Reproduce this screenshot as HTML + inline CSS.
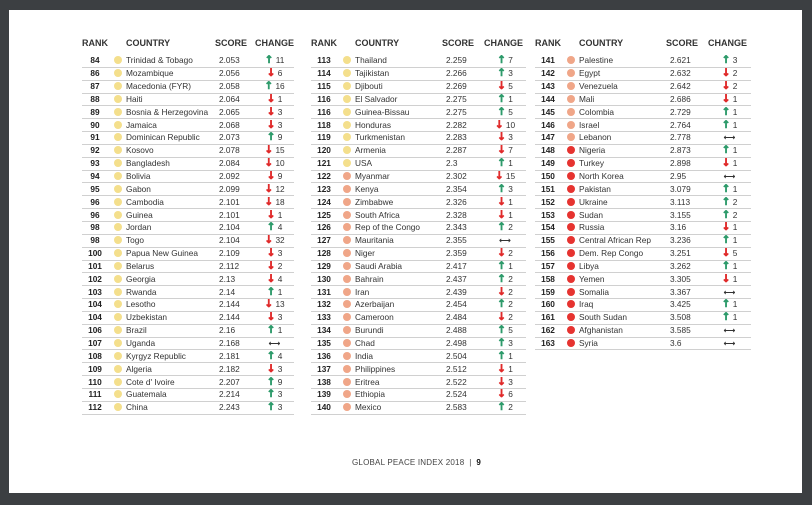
<!DOCTYPE html>
<html><head><meta charset="utf-8"><style>
html,body{margin:0;padding:0;width:812px;height:505px;overflow:hidden;background:#3c3f42;font-family:"Liberation Sans",sans-serif;}
.page{position:absolute;left:9px;top:10px;width:793px;height:483px;background:#fff;}
.col{position:absolute;top:26px;}
table{border-collapse:collapse;table-layout:fixed;}
th{font-size:9px;font-weight:bold;color:#333;text-align:left;height:14px;padding:0;padding-bottom:5px;white-space:nowrap;}
td{font-size:8.3px;color:#333;height:11.85px;padding:0;border-bottom:1px solid #d0d0d0;white-space:nowrap;line-height:11px;}
td.r{font-weight:bold;text-align:center;color:#222;}
td.s{padding-left:4px;}
td.c{text-align:center;}
i{display:inline-block;width:8px;height:8px;border-radius:50%;vertical-align:-1px;margin-left:6px;}
.y i{background:#f4df8c}.o i{background:#f0a688}.d i{background:#e63330}
b.u,b.w{font-size:10.5px;font-family:"DejaVu Sans",sans-serif;font-weight:bold;-webkit-text-stroke:0.6px currentColor;line-height:10px}
.u{color:#2e9b6b}.w{color:#e02a2a}.e{font-weight:bold;font-family:"DejaVu Sans",sans-serif;}
.ft{position:absolute;left:343px;top:448px;font-size:8px;color:#444;letter-spacing:.2px}
</style></head><body><div class="page">
<div class="col" style="left:73px">
<table><colgroup><col style="width:24px"><col style="width:18px"><col style="width:89px"><col style="width:40px"><col style="width:37px"></colgroup>
<tr><th>RANK</th><th></th><th>COUNTRY</th><th>SCORE</th><th>CHANGE</th></tr>
<tr class="y"><td class="r">84</td><td><i></i></td><td>Trinidad &amp; Tobago</td><td class="s">2.053</td><td class="c"><b class="u">↑</b> 11</td></tr>
<tr class="y"><td class="r">86</td><td><i></i></td><td>Mozambique</td><td class="s">2.056</td><td class="c"><b class="w">↓</b> 6</td></tr>
<tr class="y"><td class="r">87</td><td><i></i></td><td>Macedonia (FYR)</td><td class="s">2.058</td><td class="c"><b class="u">↑</b> 16</td></tr>
<tr class="y"><td class="r">88</td><td><i></i></td><td>Haiti</td><td class="s">2.064</td><td class="c"><b class="w">↓</b> 1</td></tr>
<tr class="y"><td class="r">89</td><td><i></i></td><td>Bosnia &amp; Herzegovina</td><td class="s">2.065</td><td class="c"><b class="w">↓</b> 3</td></tr>
<tr class="y"><td class="r">90</td><td><i></i></td><td>Jamaica</td><td class="s">2.068</td><td class="c"><b class="w">↓</b> 3</td></tr>
<tr class="y"><td class="r">91</td><td><i></i></td><td>Dominican Republic</td><td class="s">2.073</td><td class="c"><b class="u">↑</b> 9</td></tr>
<tr class="y"><td class="r">92</td><td><i></i></td><td>Kosovo</td><td class="s">2.078</td><td class="c"><b class="w">↓</b> 15</td></tr>
<tr class="y"><td class="r">93</td><td><i></i></td><td>Bangladesh</td><td class="s">2.084</td><td class="c"><b class="w">↓</b> 10</td></tr>
<tr class="y"><td class="r">94</td><td><i></i></td><td>Bolivia</td><td class="s">2.092</td><td class="c"><b class="w">↓</b> 9</td></tr>
<tr class="y"><td class="r">95</td><td><i></i></td><td>Gabon</td><td class="s">2.099</td><td class="c"><b class="w">↓</b> 12</td></tr>
<tr class="y"><td class="r">96</td><td><i></i></td><td>Cambodia</td><td class="s">2.101</td><td class="c"><b class="w">↓</b> 18</td></tr>
<tr class="y"><td class="r">96</td><td><i></i></td><td>Guinea</td><td class="s">2.101</td><td class="c"><b class="w">↓</b> 1</td></tr>
<tr class="y"><td class="r">98</td><td><i></i></td><td>Jordan</td><td class="s">2.104</td><td class="c"><b class="u">↑</b> 4</td></tr>
<tr class="y"><td class="r">98</td><td><i></i></td><td>Togo</td><td class="s">2.104</td><td class="c"><b class="w">↓</b> 32</td></tr>
<tr class="y"><td class="r">100</td><td><i></i></td><td>Papua New Guinea</td><td class="s">2.109</td><td class="c"><b class="w">↓</b> 3</td></tr>
<tr class="y"><td class="r">101</td><td><i></i></td><td>Belarus</td><td class="s">2.112</td><td class="c"><b class="w">↓</b> 2</td></tr>
<tr class="y"><td class="r">102</td><td><i></i></td><td>Georgia</td><td class="s">2.13</td><td class="c"><b class="w">↓</b> 4</td></tr>
<tr class="y"><td class="r">103</td><td><i></i></td><td>Rwanda</td><td class="s">2.14</td><td class="c"><b class="u">↑</b> 1</td></tr>
<tr class="y"><td class="r">104</td><td><i></i></td><td>Lesotho</td><td class="s">2.144</td><td class="c"><b class="w">↓</b> 13</td></tr>
<tr class="y"><td class="r">104</td><td><i></i></td><td>Uzbekistan</td><td class="s">2.144</td><td class="c"><b class="w">↓</b> 3</td></tr>
<tr class="y"><td class="r">106</td><td><i></i></td><td>Brazil</td><td class="s">2.16</td><td class="c"><b class="u">↑</b> 1</td></tr>
<tr class="y"><td class="r">107</td><td><i></i></td><td>Uganda</td><td class="s">2.168</td><td class="c"><b class="e">⟷</b></td></tr>
<tr class="y"><td class="r">108</td><td><i></i></td><td>Kyrgyz Republic</td><td class="s">2.181</td><td class="c"><b class="u">↑</b> 4</td></tr>
<tr class="y"><td class="r">109</td><td><i></i></td><td>Algeria</td><td class="s">2.182</td><td class="c"><b class="w">↓</b> 3</td></tr>
<tr class="y"><td class="r">110</td><td><i></i></td><td>Cote d' Ivoire</td><td class="s">2.207</td><td class="c"><b class="u">↑</b> 9</td></tr>
<tr class="y"><td class="r">111</td><td><i></i></td><td>Guatemala</td><td class="s">2.214</td><td class="c"><b class="u">↑</b> 3</td></tr>
<tr class="y"><td class="r">112</td><td><i></i></td><td>China</td><td class="s">2.243</td><td class="c"><b class="u">↑</b> 3</td></tr>
</table></div>

<div class="col" style="left:302px">
<table><colgroup><col style="width:24px"><col style="width:18px"><col style="width:87px"><col style="width:42px"><col style="width:42px"></colgroup>
<tr><th>RANK</th><th></th><th>COUNTRY</th><th>SCORE</th><th>CHANGE</th></tr>
<tr class="y"><td class="r">113</td><td><i></i></td><td>Thailand</td><td class="s">2.259</td><td class="c"><b class="u">↑</b> 7</td></tr>
<tr class="y"><td class="r">114</td><td><i></i></td><td>Tajikistan</td><td class="s">2.266</td><td class="c"><b class="u">↑</b> 3</td></tr>
<tr class="y"><td class="r">115</td><td><i></i></td><td>Djibouti</td><td class="s">2.269</td><td class="c"><b class="w">↓</b> 5</td></tr>
<tr class="y"><td class="r">116</td><td><i></i></td><td>El Salvador</td><td class="s">2.275</td><td class="c"><b class="u">↑</b> 1</td></tr>
<tr class="y"><td class="r">116</td><td><i></i></td><td>Guinea-Bissau</td><td class="s">2.275</td><td class="c"><b class="u">↑</b> 5</td></tr>
<tr class="y"><td class="r">118</td><td><i></i></td><td>Honduras</td><td class="s">2.282</td><td class="c"><b class="w">↓</b> 10</td></tr>
<tr class="y"><td class="r">119</td><td><i></i></td><td>Turkmenistan</td><td class="s">2.283</td><td class="c"><b class="w">↓</b> 3</td></tr>
<tr class="y"><td class="r">120</td><td><i></i></td><td>Armenia</td><td class="s">2.287</td><td class="c"><b class="w">↓</b> 7</td></tr>
<tr class="y"><td class="r">121</td><td><i></i></td><td>USA</td><td class="s">2.3</td><td class="c"><b class="u">↑</b> 1</td></tr>
<tr class="o"><td class="r">122</td><td><i></i></td><td>Myanmar</td><td class="s">2.302</td><td class="c"><b class="w">↓</b> 15</td></tr>
<tr class="o"><td class="r">123</td><td><i></i></td><td>Kenya</td><td class="s">2.354</td><td class="c"><b class="u">↑</b> 3</td></tr>
<tr class="o"><td class="r">124</td><td><i></i></td><td>Zimbabwe</td><td class="s">2.326</td><td class="c"><b class="w">↓</b> 1</td></tr>
<tr class="o"><td class="r">125</td><td><i></i></td><td>South Africa</td><td class="s">2.328</td><td class="c"><b class="w">↓</b> 1</td></tr>
<tr class="o"><td class="r">126</td><td><i></i></td><td>Rep of the Congo</td><td class="s">2.343</td><td class="c"><b class="u">↑</b> 2</td></tr>
<tr class="o"><td class="r">127</td><td><i></i></td><td>Mauritania</td><td class="s">2.355</td><td class="c"><b class="e">⟷</b></td></tr>
<tr class="o"><td class="r">128</td><td><i></i></td><td>Niger</td><td class="s">2.359</td><td class="c"><b class="w">↓</b> 2</td></tr>
<tr class="o"><td class="r">129</td><td><i></i></td><td>Saudi Arabia</td><td class="s">2.417</td><td class="c"><b class="u">↑</b> 1</td></tr>
<tr class="o"><td class="r">130</td><td><i></i></td><td>Bahrain</td><td class="s">2.437</td><td class="c"><b class="u">↑</b> 2</td></tr>
<tr class="o"><td class="r">131</td><td><i></i></td><td>Iran</td><td class="s">2.439</td><td class="c"><b class="w">↓</b> 2</td></tr>
<tr class="o"><td class="r">132</td><td><i></i></td><td>Azerbaijan</td><td class="s">2.454</td><td class="c"><b class="u">↑</b> 2</td></tr>
<tr class="o"><td class="r">133</td><td><i></i></td><td>Cameroon</td><td class="s">2.484</td><td class="c"><b class="w">↓</b> 2</td></tr>
<tr class="o"><td class="r">134</td><td><i></i></td><td>Burundi</td><td class="s">2.488</td><td class="c"><b class="u">↑</b> 5</td></tr>
<tr class="o"><td class="r">135</td><td><i></i></td><td>Chad</td><td class="s">2.498</td><td class="c"><b class="u">↑</b> 3</td></tr>
<tr class="o"><td class="r">136</td><td><i></i></td><td>India</td><td class="s">2.504</td><td class="c"><b class="u">↑</b> 1</td></tr>
<tr class="o"><td class="r">137</td><td><i></i></td><td>Philippines</td><td class="s">2.512</td><td class="c"><b class="w">↓</b> 1</td></tr>
<tr class="o"><td class="r">138</td><td><i></i></td><td>Eritrea</td><td class="s">2.522</td><td class="c"><b class="w">↓</b> 3</td></tr>
<tr class="o"><td class="r">139</td><td><i></i></td><td>Ethiopia</td><td class="s">2.524</td><td class="c"><b class="w">↓</b> 6</td></tr>
<tr class="o"><td class="r">140</td><td><i></i></td><td>Mexico</td><td class="s">2.583</td><td class="c"><b class="u">↑</b> 2</td></tr>
</table></div>

<div class="col" style="left:526px">
<table><colgroup><col style="width:24px"><col style="width:18px"><col style="width:87px"><col style="width:42px"><col style="width:43px"></colgroup>
<tr><th>RANK</th><th></th><th>COUNTRY</th><th>SCORE</th><th>CHANGE</th></tr>
<tr class="o"><td class="r">141</td><td><i></i></td><td>Palestine</td><td class="s">2.621</td><td class="c"><b class="u">↑</b> 3</td></tr>
<tr class="o"><td class="r">142</td><td><i></i></td><td>Egypt</td><td class="s">2.632</td><td class="c"><b class="w">↓</b> 2</td></tr>
<tr class="o"><td class="r">143</td><td><i></i></td><td>Venezuela</td><td class="s">2.642</td><td class="c"><b class="w">↓</b> 2</td></tr>
<tr class="o"><td class="r">144</td><td><i></i></td><td>Mali</td><td class="s">2.686</td><td class="c"><b class="w">↓</b> 1</td></tr>
<tr class="o"><td class="r">145</td><td><i></i></td><td>Colombia</td><td class="s">2.729</td><td class="c"><b class="u">↑</b> 1</td></tr>
<tr class="o"><td class="r">146</td><td><i></i></td><td>Israel</td><td class="s">2.764</td><td class="c"><b class="u">↑</b> 1</td></tr>
<tr class="o"><td class="r">147</td><td><i></i></td><td>Lebanon</td><td class="s">2.778</td><td class="c"><b class="e">⟷</b></td></tr>
<tr class="d"><td class="r">148</td><td><i></i></td><td>Nigeria</td><td class="s">2.873</td><td class="c"><b class="u">↑</b> 1</td></tr>
<tr class="d"><td class="r">149</td><td><i></i></td><td>Turkey</td><td class="s">2.898</td><td class="c"><b class="w">↓</b> 1</td></tr>
<tr class="d"><td class="r">150</td><td><i></i></td><td>North Korea</td><td class="s">2.95</td><td class="c"><b class="e">⟷</b></td></tr>
<tr class="d"><td class="r">151</td><td><i></i></td><td>Pakistan</td><td class="s">3.079</td><td class="c"><b class="u">↑</b> 1</td></tr>
<tr class="d"><td class="r">152</td><td><i></i></td><td>Ukraine</td><td class="s">3.113</td><td class="c"><b class="u">↑</b> 2</td></tr>
<tr class="d"><td class="r">153</td><td><i></i></td><td>Sudan</td><td class="s">3.155</td><td class="c"><b class="u">↑</b> 2</td></tr>
<tr class="d"><td class="r">154</td><td><i></i></td><td>Russia</td><td class="s">3.16</td><td class="c"><b class="w">↓</b> 1</td></tr>
<tr class="d"><td class="r">155</td><td><i></i></td><td>Central African Rep</td><td class="s">3.236</td><td class="c"><b class="u">↑</b> 1</td></tr>
<tr class="d"><td class="r">156</td><td><i></i></td><td>Dem. Rep Congo</td><td class="s">3.251</td><td class="c"><b class="w">↓</b> 5</td></tr>
<tr class="d"><td class="r">157</td><td><i></i></td><td>Libya</td><td class="s">3.262</td><td class="c"><b class="u">↑</b> 1</td></tr>
<tr class="d"><td class="r">158</td><td><i></i></td><td>Yemen</td><td class="s">3.305</td><td class="c"><b class="w">↓</b> 1</td></tr>
<tr class="d"><td class="r">159</td><td><i></i></td><td>Somalia</td><td class="s">3.367</td><td class="c"><b class="e">⟷</b></td></tr>
<tr class="d"><td class="r">160</td><td><i></i></td><td>Iraq</td><td class="s">3.425</td><td class="c"><b class="u">↑</b> 1</td></tr>
<tr class="d"><td class="r">161</td><td><i></i></td><td>South Sudan</td><td class="s">3.508</td><td class="c"><b class="u">↑</b> 1</td></tr>
<tr class="d"><td class="r">162</td><td><i></i></td><td>Afghanistan</td><td class="s">3.585</td><td class="c"><b class="e">⟷</b></td></tr>
<tr class="d"><td class="r">163</td><td><i></i></td><td>Syria</td><td class="s">3.6</td><td class="c"><b class="e">⟷</b></td></tr>
</table></div>

<div class="ft">GLOBAL PEACE INDEX 2018 &nbsp;|&nbsp; <b style="color:#111">9</b></div>
</div></body></html>
